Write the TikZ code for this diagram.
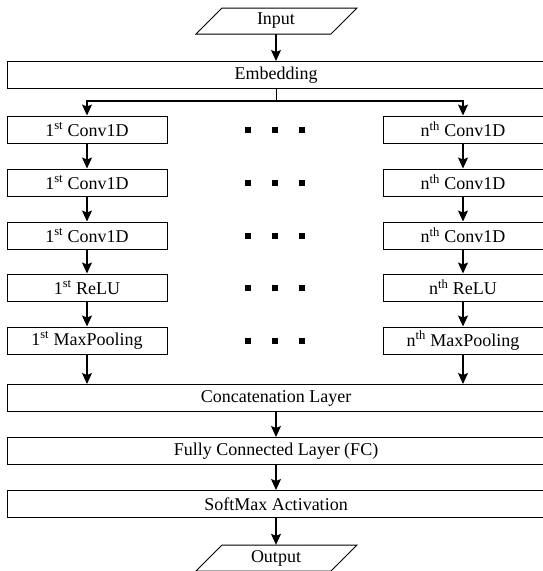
\documentclass[tikz,border=0pt]{standalone}
\usepackage{fontspec}
\setmainfont{Liberation Serif}
\usetikzlibrary{arrows.meta}
\begin{document}
\begin{tikzpicture}[x=1pt,y=-1pt,
 box/.style={draw, line width=1pt, minimum height=27pt, inner sep=0pt, font=\fontsize{18}{20}\selectfont, anchor=center},
 lbox/.style={box, minimum width=160pt},
 wbox/.style={box, minimum width=538pt},
 io/.style={inner sep=0pt, minimum width=110pt, minimum height=26pt, font=\fontsize{18}{20}\selectfont},
 arr/.style={-{Stealth[length=11pt,width=10pt,inset=2pt]}, line width=1.1pt},
 ln/.style={line width=1pt},
 dotsq/.style={fill, minimum size=6pt, inner sep=0pt},
 ]
\useasboundingbox (0,0) rectangle (543,571);
% Input
\draw[ln] (222,8) -- (357,8) -- (331,34) -- (196,34) -- cycle;
\node[io] (in) at (276,21) {Input};
\node[wbox] (emb) at (276,75) {Embedding};
% rows
\foreach \i/\y/\lab/\labn in {1/129.5/Conv1D/Conv1D,2/182.5/Conv1D/Conv1D,3/235.5/Conv1D/Conv1D,4/287.5/ReLU/ReLU,5/340.5/MaxPooling/MaxPooling}{
  \node[lbox] (l\i) at (87,\y) {1\textsuperscript{st} \lab};
  \node[lbox] (r\i) at (463,\y) {n\textsuperscript{th} \labn};
  \node[dotsq] (da\i) at (248,\y) {};
  \node[dotsq] (db\i) at (275,\y) {};
  \node[dotsq] (dc\i) at (302,\y) {};
}
\node[wbox] (cat) at (276,398) {Concatenation Layer};
\node[wbox] (fc) at (276,451) {Fully Connected Layer (FC)};
\node[wbox] (sm) at (276,504) {SoftMax Activation};
% Output
\draw[ln] (222,545) -- (357,545) -- (331,571) -- (196,571) -- cycle;
\node[io] (out) at (276,558) {Output};
% connectors
\draw[arr] (in.south) -- (emb.north);
\coordinate (br) at (276,101);
\draw[ln] (emb.south) -- (br);
\draw[arr] (br) -| (l1.north);
\draw[arr] (br) -| (r1.north);
\foreach \a/\b in {1/2,2/3,3/4,4/5}{
  \draw[arr] (l\a.south) -- (l\b.north);
  \draw[arr] (r\a.south) -- (r\b.north);
}
\draw[arr] (l5.south) -- (l5.south |- cat.north);
\draw[arr] (r5.south) -- (r5.south |- cat.north);
\draw[arr] (cat.south) -- (fc.north);
\draw[arr] (fc.south) -- (sm.north);
\draw[arr] (sm.south) -- (out.north);
\end{tikzpicture}
\end{document}
